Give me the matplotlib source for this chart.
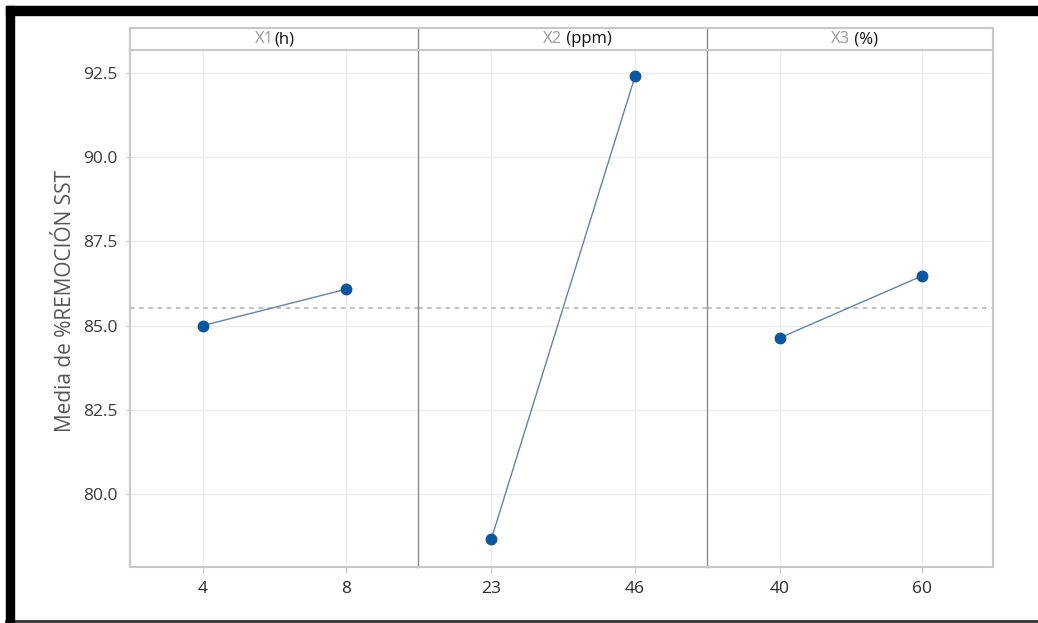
import matplotlib
matplotlib.use("Agg")
import matplotlib.pyplot as plt
from matplotlib.patches import Rectangle
from matplotlib.lines import Line2D

plt.rcParams['font.family'] = ['Open Sans', 'DejaVu Sans']

factors = ["X1", "X2", "X3"]
units = ["(h)", " (ppm)", " (%)"]
levels = [["4", "8"], ["23", "46"], ["40", "60"]]
means = [[85.0, 86.08], [78.66, 92.41], [84.63, 86.47]]
grand_mean = 85.53
yticks = [80.0, 82.5, 85.0, 87.5, 90.0, 92.5]

W, H = 1038, 623
fig = plt.figure(figsize=(W / 100, H / 100), dpi=100)

def fx(px):
    return px / W

def fy(py):
    return 1 - py / H

# black border
fig.patches.append(Rectangle((fx(6), fy(15)), fx(1038 - 6), fy(6) - fy(15),
                             transform=fig.transFigure, color='black', zorder=10))
fig.patches.append(Rectangle((fx(6), fy(623)), fx(8), fy(6) - fy(623),
                             transform=fig.transFigure, color='black', zorder=10))
fig.lines.append(Line2D([fx(6), 1], [fy(621), fy(621)], transform=fig.transFigure,
                        color='#333333', lw=2, zorder=10))

top_strip, top_plot, bottom = 28, 50, 567
edges = [130, 418, 707, 993]

frame_col = '#c8c8c8'
div_col = '#8c8c8c'
grid_col = '#ececec'

for i in range(3):
    ax = fig.add_axes([fx(edges[i]), fy(bottom), fx(edges[i + 1] - edges[i]),
                       fy(top_plot) - fy(bottom)])
    xs = list(range(len(levels[i])))
    ax.axhline(grand_mean, color='#b0b0b0', lw=1.1, ls=(0, (3, 3)), zorder=1)
    ax.plot(xs, means[i], color='#5f83b0', lw=1.0, zorder=2)
    ax.plot(xs, means[i], 'o', color='#0a56a0', ms=7.5, zorder=3)
    ax.set_xlim(-0.51, 1.5)
    ax.set_ylim(77.83, 93.18)
    ax.set_xticks(xs)
    ax.set_xticklabels(levels[i], fontsize=12.5, color='#2a2a2a')
    ax.set_yticks(yticks)
    ax.grid(True, color=grid_col, lw=1.0)
    ax.set_axisbelow(True)
    for s in ax.spines.values():
        s.set_color(frame_col)
        s.set_linewidth(1.5)
    if i > 0:
        ax.spines['left'].set_color(div_col)
        ax.spines['left'].set_linewidth(1.0)
        ax.tick_params(axis='y', left=False, labelleft=False)
    if i < 2:
        ax.spines['right'].set_visible(False)
    ax.tick_params(axis='x', colors=frame_col, labelcolor='#2a2a2a', length=4, pad=6)
    if i == 0:
        ax.set_yticklabels([f"{v:.1f}" for v in yticks], fontsize=12.5, color='#3a3a3a')
        ax.tick_params(axis='y', colors=frame_col, labelcolor='#3a3a3a', length=3, pad=6)
        ax.set_ylabel("Media de %REMOCIÓN SST", fontsize=15, color='#555555')
        ax.yaxis.set_label_coords(-0.1875, 0.5145)

    # header strip
    hx = fig.add_axes([fx(edges[i]), fy(top_plot), fx(edges[i + 1] - edges[i]),
                       fy(top_strip) - fy(top_plot)])
    hx.set_xticks([])
    hx.set_yticks([])
    for s in hx.spines.values():
        s.set_color(frame_col)
        s.set_linewidth(1.5)
    if i > 0:
        hx.spines['left'].set_color(div_col)
        hx.spines['left'].set_linewidth(1.0)
    if i < 2:
        hx.spines['right'].set_visible(False)
    hx.text(0.5, 0.5, factors[i], color='#9a9a9a', fontsize=12,
            ha='right', va='center', transform=hx.transAxes)
    hx.text(0.5, 0.5, units[i], color='#111111', fontsize=12,
            ha='left', va='center', transform=hx.transAxes)

fig.savefig("out.png", dpi=100)
